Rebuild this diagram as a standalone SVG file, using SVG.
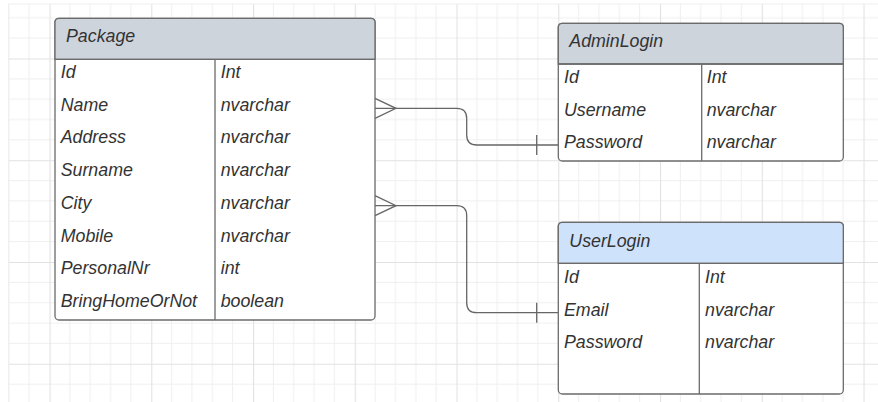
<svg xmlns="http://www.w3.org/2000/svg" width="878" height="402" viewBox="0 0 878 402">
<defs>
<pattern id="grid" patternUnits="userSpaceOnUse" x="49.5" y="58.5" width="101.75" height="101.75">
<path d="M20.35 0V101.75M40.7 0V101.75M61.05 0V101.75M81.4 0V101.75M0 20.35H101.75M0 40.7H101.75M0 61.05H101.75M0 81.4H101.75" stroke="#efefef" stroke-width="1" fill="none"/>
<path d="M0.5 0V101.75M0 0.5H101.75" stroke="#e2e2e2" stroke-width="1.2" fill="none"/>
</pattern>
</defs>
<style>
.box{fill:#ffffff;stroke:#6b6b6b;stroke-width:1.3}
.hdr{stroke:#6b6b6b;stroke-width:1.3}
.sep{stroke:#6b6b6b;stroke-width:1.3;fill:none}
.t{font-family:"Liberation Sans",Arial,sans-serif;font-style:italic;font-size:17.8px;fill:#333333}
.c{fill:none;stroke:#666666;stroke-width:1.3}
</style>
<rect x="0" y="0" width="878" height="402" fill="#ffffff"/>
<rect x="8" y="4" width="870" height="398" fill="url(#grid)"/>
<line x1="8" y1="4" x2="878" y2="4" stroke="#efefef"/>
<line x1="8.5" y1="4" x2="8.5" y2="402" stroke="#efefef"/>

<g id="connectors">
<path class="c" d="M375 108.3H456.7Q466.7 108.3 466.7 118.3V135Q466.7 145 476.7 145H558.3"/>
<path class="c" d="M375 98.3L396 108.3L375 118.3M536.7 135V155"/>
<path class="c" d="M375 205.7H456.7Q466.7 205.7 466.7 215.7V302.7Q466.7 312.7 476.7 312.7H558.3"/>
<path class="c" d="M375 195.7L396 205.7L375 215.7M536.7 302.7V322.7"/>
</g>

<g id="package">
<rect class="box" x="55" y="18.3" width="320" height="301.7" rx="4"/>
<path class="hdr" fill="#ced4dc" d="M55 59.3V22.3Q55 18.3 59 18.3H371Q375 18.3 375 22.3V59.3Z"/>
<path class="sep" d="M55 59.3H375M215 59.3V320"/>
<text class="t" x="66" y="42.3">Package</text>
<text class="t" x="60.7" y="78">Id</text><text class="t" x="220.7" y="78">Int</text>
<text class="t" x="60.7" y="110.7">Name</text><text class="t" x="220.7" y="110.7">nvarchar</text>
<text class="t" x="60.7" y="143.4">Address</text><text class="t" x="220.7" y="143.4">nvarchar</text>
<text class="t" x="60.7" y="176.1">Surname</text><text class="t" x="220.7" y="176.1">nvarchar</text>
<text class="t" x="60.7" y="208.8">City</text><text class="t" x="220.7" y="208.8">nvarchar</text>
<text class="t" x="60.7" y="241.5">Mobile</text><text class="t" x="220.7" y="241.5">nvarchar</text>
<text class="t" x="60.7" y="274.2">PersonalNr</text><text class="t" x="220.7" y="274.2">int</text>
<text class="t" x="60.7" y="306.9">BringHomeOrNot</text><text class="t" x="220.7" y="306.9">boolean</text>
</g>

<g id="adminlogin">
<rect class="box" x="558.3" y="23.3" width="285" height="137.7" rx="4"/>
<path class="hdr" fill="#ced4dc" d="M558.3 64V27.3Q558.3 23.3 562.3 23.3H839.3Q843.3 23.3 843.3 27.3V64Z"/>
<path class="sep" d="M558.3 64H843.3M701.7 64V161"/>
<text class="t" x="569.3" y="46.7">AdminLogin</text>
<text class="t" x="564" y="83.3">Id</text><text class="t" x="706.7" y="83.3">Int</text>
<text class="t" x="564" y="115.7">Username</text><text class="t" x="706.7" y="115.7">nvarchar</text>
<text class="t" x="564" y="147.7">Password</text><text class="t" x="706.7" y="147.7">nvarchar</text>
</g>

<g id="userlogin">
<rect class="box" x="558.3" y="222.3" width="285" height="171.7" rx="4"/>
<path class="hdr" fill="#cfe2fb" d="M558.3 263.3V226.3Q558.3 222.3 562.3 222.3H839.3Q843.3 222.3 843.3 226.3V263.3Z"/>
<path class="sep" d="M558.3 263.3H843.3M699.3 263.3V394"/>
<text class="t" x="569.3" y="246.7">UserLogin</text>
<text class="t" x="564" y="283.3">Id</text><text class="t" x="705" y="283.3">Int</text>
<text class="t" x="564" y="316">Email</text><text class="t" x="705" y="316">nvarchar</text>
<text class="t" x="564" y="348.3">Password</text><text class="t" x="705" y="348.3">nvarchar</text>
</g>
</svg>
